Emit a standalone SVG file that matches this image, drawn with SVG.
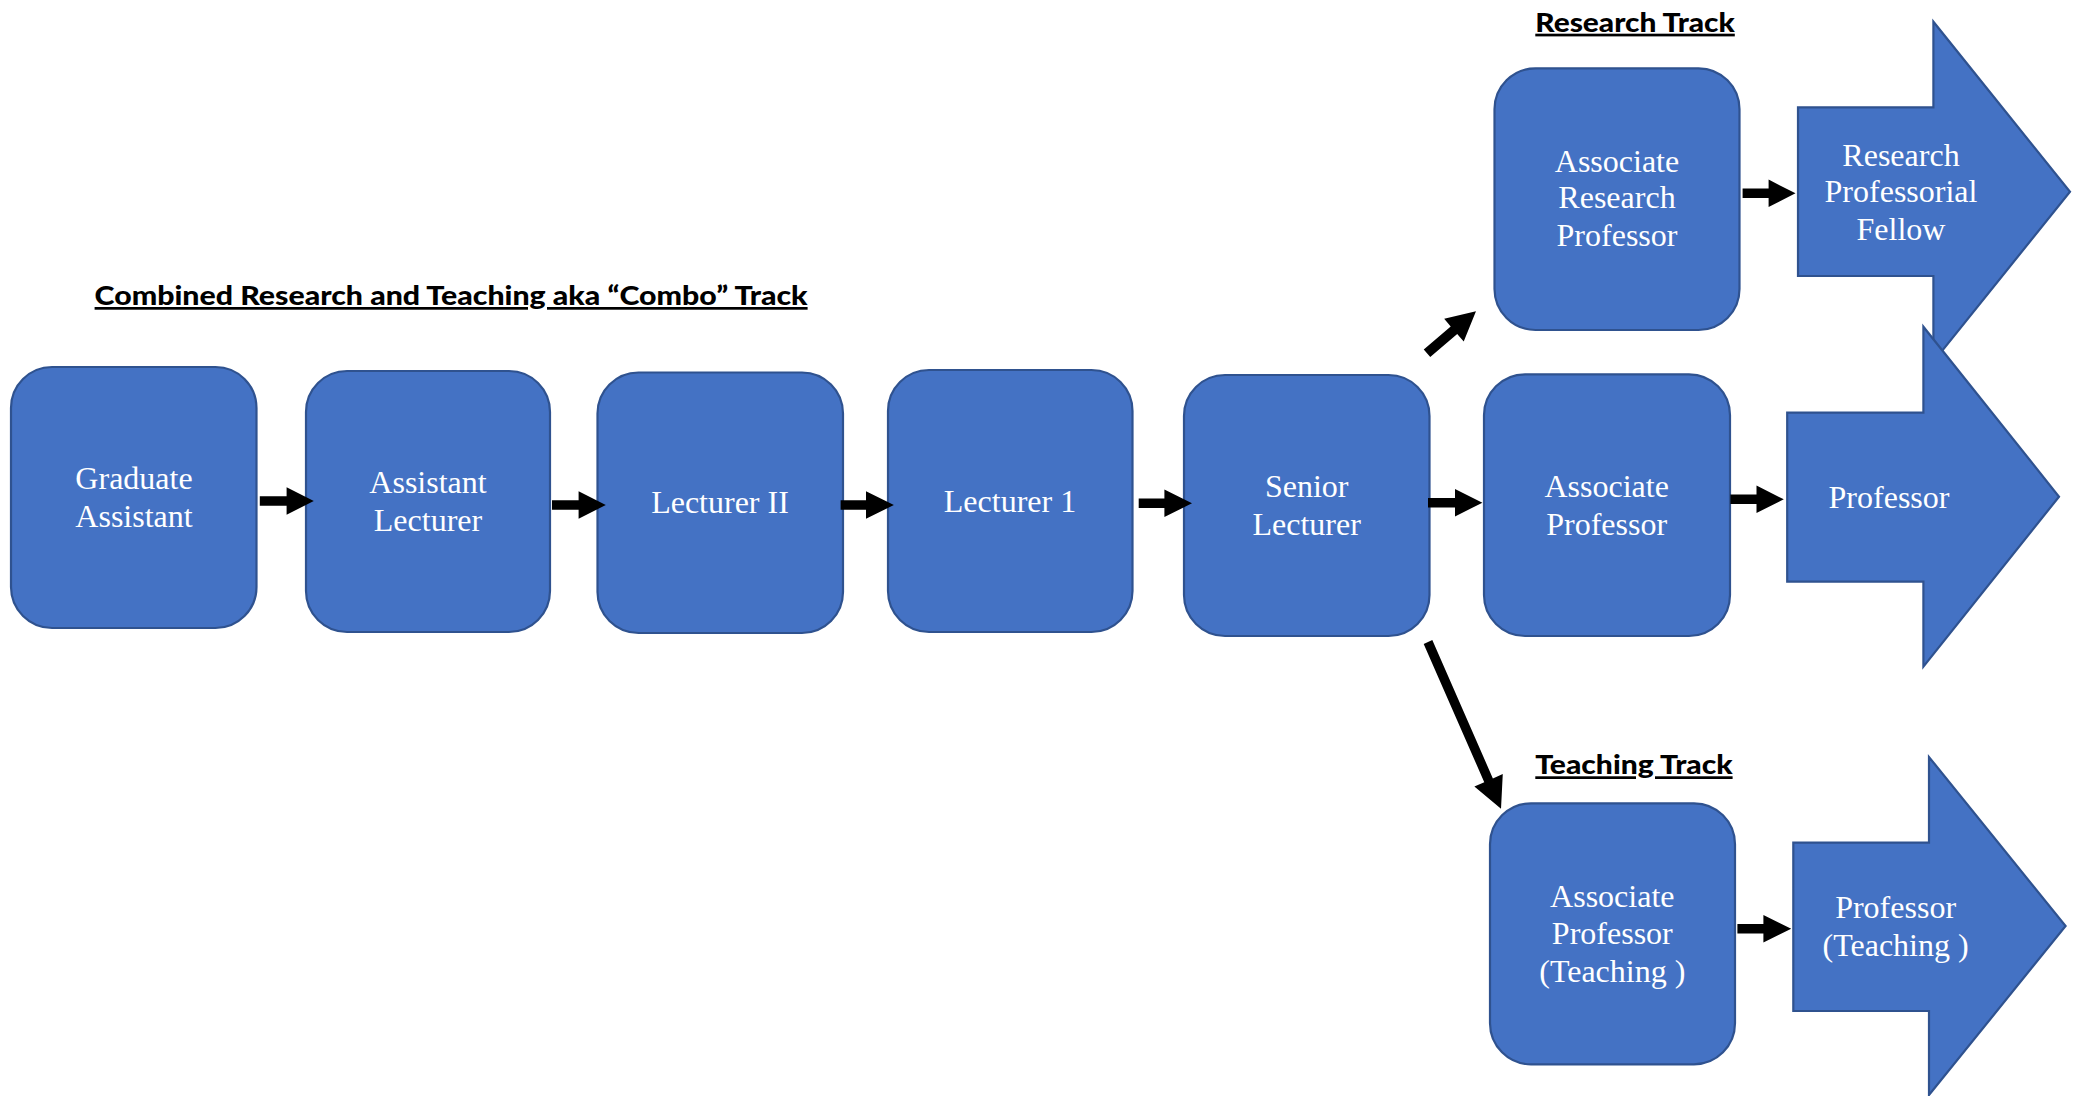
<svg xmlns="http://www.w3.org/2000/svg" width="2080" height="1096" viewBox="0 0 2080 1096">
<style>
.node{fill:#4472C4;stroke:#2F528F;stroke-width:2.2}
.lbl{font-family:"Liberation Serif","Times New Roman",serif;font-size:32px;fill:#FFFFFF;text-anchor:middle}
.ttl{font-family:Lato,"Liberation Sans",Arial,sans-serif;font-weight:900;font-size:27px;fill:#000000;text-decoration:underline;text-decoration-thickness:3px;text-underline-offset:4px}
.conn{fill:#000000;stroke:none}
</style>
<rect width="2080" height="1096" fill="#FFFFFF"/>
<g id="titles">
<text class="ttl" x="94.6" y="305" textLength="713" lengthAdjust="spacingAndGlyphs">Combined Research and Teaching aka “Combo” Track</text>
<text class="ttl" x="1535.3" y="31.7" textLength="199.5" lengthAdjust="spacingAndGlyphs">Research Track</text>
<text class="ttl" x="1535.3" y="774.3" textLength="197.3" lengthAdjust="spacingAndGlyphs">Teaching Track</text>
</g>
<g id="research-professorial-fellow">
<polygon class="node" points="1798,107.3 1933.4,107.3 1933.4,21.7 2070,191.7 1933.4,361.7 1933.4,276 1798,276"/>
<text class="lbl" x="1901" y="165.7">Research</text>
<text class="lbl" x="1901" y="202.3">Professorial</text>
<text class="lbl" x="1901" y="240">Fellow</text>
</g>
<g id="professor">
<polygon class="node" points="1787.2,412.7 1923.4,412.7 1923.4,326.7 2059,496.7 1923.4,666.7 1923.4,581.7 1787.2,581.7"/>
<text class="lbl" x="1889" y="508.3">Professor</text>
</g>
<g id="professor-teaching">
<polygon class="node" points="1793.3,842.7 1929,842.7 1929,757 2065.6,926 1929,1095 1929,1011 1793.3,1011"/>
<text class="lbl" x="1895.6" y="917.7">Professor</text>
<text class="lbl" x="1895.6" y="956">(Teaching )</text>
</g>
<g id="graduate-assistant">
<rect class="node" x="11" y="367" width="245.5" height="261" rx="41" ry="41"/>
<text class="lbl" x="134" y="489">Graduate</text>
<text class="lbl" x="134" y="526.7">Assistant</text>
</g>
<g id="assistant-lecturer">
<rect class="node" x="306" y="371" width="244" height="261" rx="41" ry="41"/>
<text class="lbl" x="428" y="492.7">Assistant</text>
<text class="lbl" x="428" y="531">Lecturer</text>
</g>
<g id="lecturer-ii">
<rect class="node" x="597.5" y="372.5" width="245.5" height="260.5" rx="41" ry="41"/>
<text class="lbl" x="720" y="513">Lecturer II</text>
</g>
<g id="lecturer-1">
<rect class="node" x="888" y="370" width="244.5" height="262" rx="41" ry="41"/>
<text class="lbl" x="1010" y="511.7">Lecturer 1</text>
</g>
<g id="senior-lecturer">
<rect class="node" x="1184" y="375" width="245.5" height="261" rx="41" ry="41"/>
<text class="lbl" x="1306.7" y="496.7">Senior</text>
<text class="lbl" x="1306.7" y="535">Lecturer</text>
</g>
<g id="associate-research-professor">
<rect class="node" x="1494.5" y="68.3" width="245" height="261.7" rx="41" ry="41"/>
<text class="lbl" x="1617" y="171.7">Associate</text>
<text class="lbl" x="1617" y="208.3">Research</text>
<text class="lbl" x="1617" y="246">Professor</text>
</g>
<g id="associate-professor">
<rect class="node" x="1484" y="374.3" width="246" height="261.7" rx="41" ry="41"/>
<text class="lbl" x="1606.7" y="496.7">Associate</text>
<text class="lbl" x="1606.7" y="535">Professor</text>
</g>
<g id="associate-professor-teaching">
<rect class="node" x="1490" y="803.3" width="245" height="261" rx="41" ry="41"/>
<text class="lbl" x="1612.3" y="906.7">Associate</text>
<text class="lbl" x="1612.3" y="944.3">Professor</text>
<text class="lbl" x="1612.3" y="982">(Teaching )</text>
</g>
<g id="connectors">
<polygon class="conn" points="259.8,496.3 286.6,496.3 286.6,487.3 313.8,501 286.6,514.7 286.6,505.7 259.8,505.7"/>
<polygon class="conn" points="552,500.3 578.6,500.3 578.6,491.3 605.8,505 578.6,518.7 578.6,509.7 552,509.7"/>
<polygon class="conn" points="840.6,500.3 866,500.3 866,491.3 893.9,505 866,518.7 866,509.7 840.6,509.7"/>
<polygon class="conn" points="1138.7,498.6 1164.4,498.6 1164.4,489.6 1192,503.3 1164.4,517 1164.4,508 1138.7,508"/>
<polygon class="conn" points="1428,498 1455,498 1455,489 1482.4,502.7 1455,516.4 1455,507.4 1428,507.4"/>
<polygon class="conn" points="1730.4,494.6 1756.5,494.6 1756.5,485.6 1783.8,499.3 1756.5,513 1756.5,504 1730.4,504"/>
<polygon class="conn" points="1742.6,188.6 1768.6,188.6 1768.6,179.6 1795.5,193.3 1768.6,207 1768.6,198 1742.6,198"/>
<polygon class="conn" points="1737.4,924 1763.4,924 1763.4,915 1791.2,928.7 1763.4,942.4 1763.4,933.4 1737.4,933.4"/>
<polygon class="conn" transform="translate(1427,353.3) rotate(-40.6)" points="0,-5 35.5,-5 35.5,-15 64.5,0 35.5,15 35.5,5 0,5"/>
<polygon class="conn" transform="translate(1428,642) rotate(66.35)" points="0,-4.7 151,-4.7 151,-15.5 182,0 151,15.5 151,4.7 0,4.7"/>
</g>
</svg>
